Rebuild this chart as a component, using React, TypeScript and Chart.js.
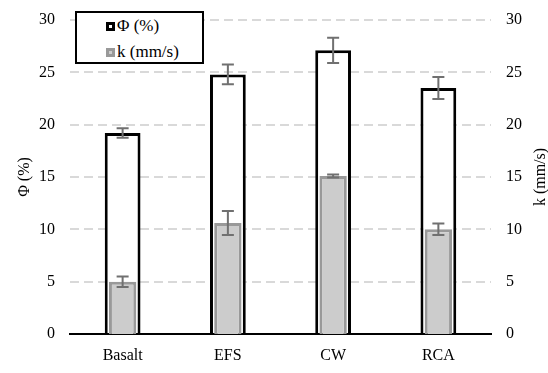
import React, { useEffect, useRef } from "react";
import { Chart, registerables } from "chart.js";

Chart.register(...registerables);

const categories = ["Basalt", "EFS", "CW", "RCA"];
const phiValues = [19.2, 24.8, 27.1, 23.5];
const phiErrors = [0.45, 0.95, 1.2, 1.05];
const kValues = [5.0, 10.6, 15.1, 10.0];
const kErrors = [0.5, 1.15, 0.15, 0.55];
const phiLabel = "Φ (%)";
const kLabel = "k (mm/s)";

const FONT = "'Liberation Serif', 'Times New Roman', serif";

const errorBarPlugin = {
  id: "errorBars",
  afterDatasetsDraw(chart: any) {
    const ctx = chart.ctx;
    const errs = [phiErrors, kErrors];
    ctx.save();
    ctx.strokeStyle = "#707070";
    ctx.lineWidth = 2;
    chart.data.datasets.forEach((ds: any, di: number) => {
      const meta = chart.getDatasetMeta(di);
      const yScale = chart.scales[ds.yAxisID];
      meta.data.forEach((bar: any, i: number) => {
        const v = ds.data[i];
        const e = errs[di][i];
        const x = bar.x;
        const yTop = yScale.getPixelForValue(v + e);
        const yBot = yScale.getPixelForValue(v - e);
        const cap = 6;
        ctx.beginPath();
        ctx.moveTo(x, yTop);
        ctx.lineTo(x, yBot);
        ctx.moveTo(x - cap, yTop);
        ctx.lineTo(x + cap, yTop);
        ctx.moveTo(x - cap, yBot);
        ctx.lineTo(x + cap, yBot);
        ctx.stroke();
      });
    });
    ctx.restore();
  },
};

const titlesPlugin = {
  id: "axisTitles",
  afterDraw(chart: any) {
    const ctx = chart.ctx;
    const area = chart.chartArea;
    const cy = (area.top + area.bottom) / 2;
    ctx.save();
    ctx.fillStyle = "#000";
    ctx.font = `16px ${FONT}`;
    ctx.textAlign = "center";
    ctx.textBaseline = "middle";
    ctx.translate(25, cy);
    ctx.rotate(-Math.PI / 2);
    ctx.fillText(phiLabel, 0, 0);
    ctx.restore();
    ctx.save();
    ctx.fillStyle = "#000";
    ctx.font = `16px ${FONT}`;
    ctx.textAlign = "center";
    ctx.textBaseline = "middle";
    ctx.translate(541, cy);
    ctx.rotate(-Math.PI / 2);
    ctx.fillText(kLabel, 0, 0);
    ctx.restore();
  },
};

export default function App() {
  const ref = useRef<HTMLCanvasElement | null>(null);
  useEffect(() => {
    if (!ref.current) return;
    const chart = new Chart(ref.current, {
      type: "bar",
      data: {
        labels: categories,
        datasets: [
          {
            label: phiLabel,
            data: phiValues,
            yAxisID: "y",
            backgroundColor: "#ffffff",
            borderColor: "#000000",
            borderWidth: 3,
            grouped: false,
            barPercentage: 0.34,
            categoryPercentage: 1,
            order: 2,
          } as any,
          {
            label: kLabel,
            data: kValues,
            yAxisID: "y1",
            backgroundColor: "#cccccc",
            borderColor: "#999999",
            borderWidth: 3,
            grouped: false,
            barPercentage: 0.26,
            categoryPercentage: 1,
            order: 1,
          } as any,
        ],
      },
      options: {
        responsive: false,
        animation: false,
        layout: { padding: { top: 20, left: 0, right: 0, bottom: 0 } },
        plugins: { legend: { display: false }, tooltip: { enabled: false } },
        scales: {
          x: {
            grid: { display: false, drawTicks: false },
            border: { display: true, color: "#000000", width: 2 },
            ticks: { color: "#000", font: { family: FONT, size: 16 }, padding: 12 },
            afterFit: (s: any) => {
              s.height = 39;
              s.paddingLeft = 0;
              s.paddingRight = 0;
            },
          },
          y: {
            position: "left",
            min: 0,
            max: 30,
            ticks: { stepSize: 5, color: "#000", font: { family: FONT, size: 16 }, padding: 15 },
            grid: {
              drawTicks: false,
              lineWidth: 2,
              color: (c: any) => (c.tick && c.tick.value === 0 ? "rgba(0,0,0,0)" : "#d9d9d9"),
            },
            border: { display: false, dash: [9, 5] },
            afterFit: (s: any) => {
              s.width = 70;
              s.paddingTop = 0;
              s.paddingBottom = 0;
            },
          },
          y1: {
            position: "right",
            min: 0,
            max: 30,
            ticks: { stepSize: 5, color: "#000", font: { family: FONT, size: 16 }, padding: 15 },
            grid: { display: false, drawTicks: false },
            border: { display: false },
            afterFit: (s: any) => {
              s.width = 57;
              s.paddingTop = 0;
              s.paddingBottom = 0;
            },
          },
        },
      },
      plugins: [errorBarPlugin, titlesPlugin],
    });
    return () => chart.destroy();
  }, []);

  const sq = (fill: string, border: string) => ({
    display: "inline-block",
    width: 9,
    height: 9,
    boxSizing: "border-box" as const,
    background: fill,
    border: `3px solid ${border}`,
    marginRight: 2,
  });

  return (
    <div style={{ position: "fixed", left: 0, top: 0, width: 548, height: 373, background: "#fff" }}>
      <canvas ref={ref} width={548} height={373} style={{ display: "block" }} />
      <div
        style={{
          position: "absolute",
          left: 75,
          top: 11,
          width: 129,
          height: 53,
          boxSizing: "border-box",
          border: "2px solid #000",
          background: "#fff",
          fontFamily: FONT,
          fontSize: 17,
          color: "#000",
        }}
      >
        <div style={{ position: "absolute", left: 29, top: 3, display: "flex", alignItems: "center", lineHeight: "20px" }}>
          <span style={sq("#ffffff", "#000000")} />
          <span>{phiLabel}</span>
        </div>
        <div style={{ position: "absolute", left: 29, top: 29, display: "flex", alignItems: "center", lineHeight: "20px" }}>
          <span style={sq("#cccccc", "#999999")} />
          <span>{kLabel}</span>
        </div>
      </div>
    </div>
  );
}
